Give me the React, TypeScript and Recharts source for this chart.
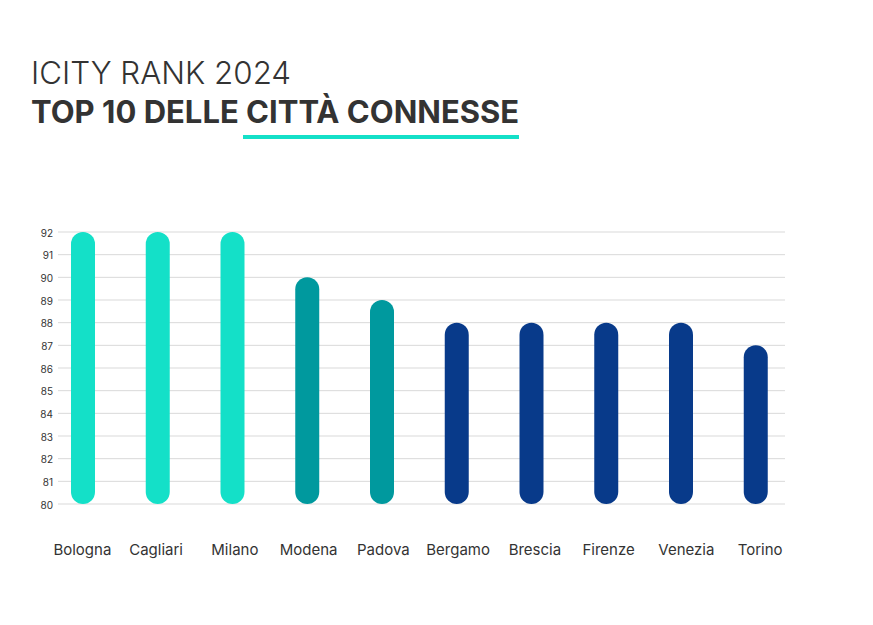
import { BarChart, Bar, Cell, XAxis, YAxis, CartesianGrid } from 'recharts'

const cities = ['Bologna', 'Cagliari', 'Milano', 'Modena', 'Padova', 'Bergamo', 'Brescia', 'Firenze', 'Venezia', 'Torino']
const scores = [92, 92, 92, 90, 89, 88, 88, 88, 88, 87]
const barColors = ['#14E0C8', '#14E0C8', '#14E0C8', '#00999E', '#00999E', '#083A8A', '#083A8A', '#083A8A', '#083A8A', '#083A8A']
const yTicks = [80, 81, 82, 83, 84, 85, 86, 87, 88, 89, 90, 91, 92]
// the labels in the original sit a little off the bar centres
const labelNudge = [-1, -2, 2, 1, 1, 1, 3, 2, 5, 4]

const rows = cities.map((city, i) => ({ city, score: scores[i] }))

const FONT = 'Inter, "Open Sans", sans-serif'

function CityTick({ x, y, index, payload }: any) {
  return (
    <text x={x + labelNudge[index]} y={y} dy={11} textAnchor="middle" fontSize={15} fontFamily={FONT} fill="#333">
      {payload.value}
    </text>
  )
}

export default function App() {
  return (
    <div style={{ position: 'absolute', left: 0, top: 0, width: 873, height: 625, background: '#fff', fontFamily: FONT, color: '#333' }}>
      <div style={{ position: 'absolute', left: 31, top: 54, fontSize: 31.3, lineHeight: '38px', fontWeight: 300, whiteSpace: 'nowrap' }}>
        ICITY RANK 2024
      </div>
      <div style={{ position: 'absolute', left: 31, top: 93, fontSize: 31, lineHeight: '38px', fontWeight: 700, whiteSpace: 'nowrap' }}>
        TOP 10 DELLE CITTÀ CONNESSE
      </div>
      <div style={{ position: 'absolute', left: 243, top: 135, width: 276, height: 4, background: '#14E0C8' }} />
      <BarChart
        width={873}
        height={625}
        data={rows}
        margin={{ top: 232, right: 88, bottom: 61, left: 28 }}
      >
        <CartesianGrid horizontal vertical={false} stroke="#d9d9d9" />
        <XAxis
          dataKey="city"
          interval={0}
          axisLine={false}
          tickLine={false}
          height={60}
          tickMargin={34}
          padding={{ left: -12, right: -8.5 }}
          tick={<CityTick />}
        />
        <YAxis
          type="number"
          width={30}
          domain={[80, 92]}
          ticks={yTicks}
          interval={0}
          axisLine={false}
          tickLine={false}
          tickMargin={-1}
          dy={1}
          tick={{ fontSize: 10, fill: '#333', fontFamily: FONT }}
        />
        <Bar dataKey="score" barSize={24} radius={12} isAnimationActive={false}>
          {rows.map((row, i) => (
            <Cell key={row.city} fill={barColors[i]} />
          ))}
        </Bar>
      </BarChart>
    </div>
  )
}
